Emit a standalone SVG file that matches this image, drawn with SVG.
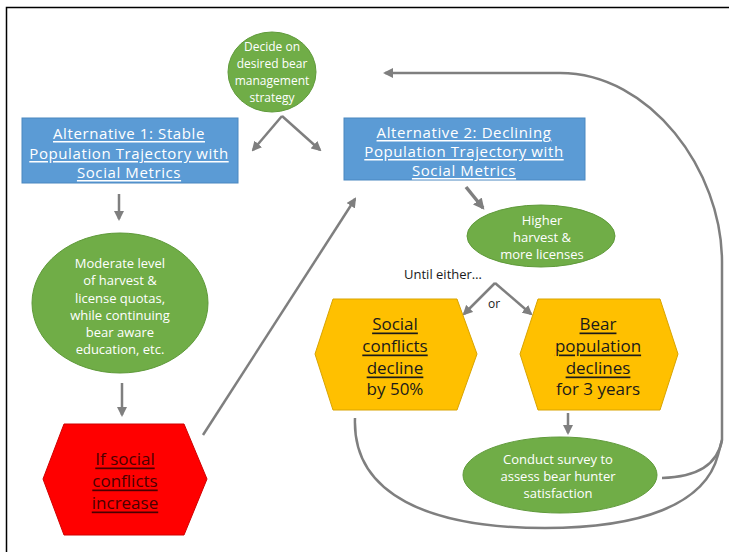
<svg xmlns="http://www.w3.org/2000/svg" width="729" height="552" viewBox="0 0 729 552">
<defs>
<style>
.t{font-family:"Open Sans","Liberation Sans",sans-serif;text-anchor:middle;dominant-baseline:central}
.w{fill:#ffffff;font-size:13px}
.d{fill:#ffffff;font-size:12px}
.b{fill:#ffffff;font-size:15px;letter-spacing:0.6px;text-decoration:underline}
.y{fill:#1a1a1a;font-size:17px}
.r{fill:#4a0000;font-size:17px;text-decoration:underline}
.u{text-decoration:underline}
.g{fill:#70AD47;stroke:#5f9a3a;stroke-width:1}
.blue{fill:#5B9BD5;stroke:#4a87c0;stroke-width:1}
.hy{fill:#FFC000;stroke:#d9a400;stroke-width:1}
.c{fill:none;stroke:#7f7f7f;stroke-width:2.5}
.ct{fill:none;stroke:#7f7f7f;stroke-width:3.5}
</style>
<marker id="ah" viewBox="0 0 10 10" refX="8" refY="5" markerWidth="4" markerHeight="4" orient="auto" markerUnits="strokeWidth">
<path d="M0,0 L10,5 L0,10 z" fill="#7f7f7f"/>
</marker>
<marker id="ah2" viewBox="0 0 10 10" refX="8" refY="5" markerWidth="3.2" markerHeight="3.2" orient="auto" markerUnits="strokeWidth">
<path d="M0,0 L10,5 L0,10 z" fill="#7f7f7f"/>
</marker>
</defs>
<rect x="0" y="0" width="729" height="552" fill="#ffffff"/>
<path d="M6.5,552 L6.5,7.5 L729,7.5" fill="none" stroke="#000000" stroke-width="1.5"/>

<g id="connectors">
<path class="c" d="M282,116 L253,150" marker-end="url(#ah)"/>
<path class="c" d="M282,116 L320,150" marker-end="url(#ah)"/>
<path class="c" d="M119,194 L119,219" marker-end="url(#ah)"/>
<path class="c" d="M122,383 L122,415" marker-end="url(#ah)"/>
<path class="c" d="M203,435 L355,199" marker-end="url(#ah)"/>
<path class="ct" d="M466,187 L483,208" marker-end="url(#ah2)"/>
<path class="c" d="M495,283 L464,314" marker-end="url(#ah)"/>
<path class="c" d="M495,283 L531,314" marker-end="url(#ah)"/>
<path class="c" d="M568,413 L568,433" marker-end="url(#ah)"/>
<path class="c" d="M722,440 L722,262 C722,170 650,73 560,73 L385,73" marker-end="url(#ah)"/>
<path class="c" d="M662,478 C700,477 718,462 722,440"/>
<path class="c" d="M355,418 C352,495 430,528 545,528 C640,528 705,505 718,455 L722,440"/>
</g>

<g id="decide">
<ellipse class="g" cx="272" cy="72" rx="44" ry="40"/>
<text class="t d" x="272" y="46">Decide on</text>
<text class="t d" x="272" y="63">desired bear</text>
<text class="t d" x="272" y="80">management</text>
<text class="t d" x="272" y="97">strategy</text>
</g>

<g id="alt1">
<rect class="blue" x="22" y="118" width="216" height="65"/>
<text class="t b" x="129" y="133">Alternative 1: Stable</text>
<text class="t b" x="129" y="153">Population Trajectory with</text>
<text class="t b" x="129" y="172">Social Metrics</text>
</g>

<g id="alt2">
<rect class="blue" x="344" y="118" width="241" height="62"/>
<text class="t b" x="464" y="132">Alternative 2: Declining</text>
<text class="t b" x="464" y="151">Population Trajectory with</text>
<text class="t b" x="464" y="170">Social Metrics</text>
</g>

<g id="moderate">
<ellipse class="g" cx="120" cy="303" rx="88" ry="70"/>
<text class="t w" x="120" y="263">Moderate level</text>
<text class="t w" x="120" y="280">of  harvest &amp;</text>
<text class="t w" x="120" y="298">license quotas,</text>
<text class="t w" x="120" y="315">while continuing</text>
<text class="t w" x="120" y="332">bear aware</text>
<text class="t w" x="120" y="349">education, etc.</text>
</g>

<g id="increase">
<polygon points="64,424 184,424 207,479 184,535 64,535 43,479" fill="#FF0000" stroke="#d00000" stroke-width="1"/>
<text class="t r" x="125" y="458">If social</text>
<text class="t r" x="125" y="480">conflicts</text>
<text class="t r" x="125" y="502">increase</text>
</g>

<g id="higher">
<ellipse class="g" cx="541" cy="236" rx="74" ry="31"/>
<text class="t w" x="542" y="220">Higher</text>
<text class="t w" x="542" y="237">harvest &amp;</text>
<text class="t w" x="542" y="254">more licenses</text>
</g>

<g id="until">
<text class="t" x="443" y="274" font-size="13" fill="#1a1a1a">Until either…</text>
<text class="t" x="494" y="303" font-size="12" fill="#1a1a1a">or</text>
</g>

<g id="social">
<polygon class="hy" points="333,299 457,299 477,354 457,410 333,410 315,354"/>
<text class="t y u" x="395" y="323">Social</text>
<text class="t y u" x="395" y="345">conflicts</text>
<text class="t y u" x="395" y="367">decline</text>
<text class="t y" x="395" y="388">by 50%</text>
</g>

<g id="bear">
<polygon class="hy" points="538,299 660,299 678,354 660,410 538,410 520,354"/>
<text class="t y u" x="598" y="323">Bear</text>
<text class="t y u" x="598" y="345">population</text>
<text class="t y u" x="598" y="367">declines</text>
<text class="t y" x="598" y="388">for 3 years</text>
</g>

<g id="survey">
<ellipse class="g" cx="560" cy="475" rx="97" ry="38"/>
<text class="t w" x="558" y="459">Conduct survey to</text>
<text class="t w" x="558" y="476">assess bear hunter</text>
<text class="t w" x="558" y="493">satisfaction</text>
</g>
</svg>
